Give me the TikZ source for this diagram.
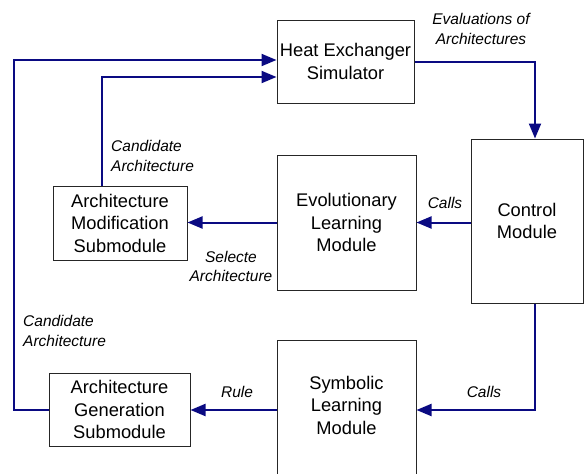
\documentclass[tikz,border=0pt]{standalone}
\usepackage{fontspec}
\setmainfont{Liberation Sans}
\usetikzlibrary{arrows.meta}
\definecolor{navyline}{RGB}{10,10,130}
\tikzset{
  box/.style={draw=black!85, line width=1pt, fill=white, inner sep=0pt, align=center,
              font=\fontsize{18.3}{22.5}\selectfont},
  lbl/.style={inner sep=0pt, font=\fontsize{15.5}{19.5}\selectfont\itshape},
  arr/.style={draw=navyline, line width=2pt, -{Triangle[length=15pt,width=12pt]}}
}
\begin{document}
\begin{tikzpicture}[x=1pt,y=-1pt]
\useasboundingbox (0,0) rectangle (584,474);
\clip (0,0) rectangle (584,474);
% boxes
\node[box, minimum width=137pt, minimum height=83pt] (hx) at (345.5,61.5) {Heat Exchanger\\Simulator};
\node[box, minimum width=112pt, minimum height=164pt] (ctrl) at (527,221) {Control\\Module};
\node[box, minimum width=139pt, minimum height=135pt] (evo) at (346.5,222.5) {Evolutionary\\Learning\\Module};
\node[box, minimum width=134pt, minimum height=74pt] (mod) at (120,223) {Architecture\\Modification\\Submodule};
\node[box, minimum width=139pt, minimum height=140pt] (sym) at (346.5,410) {};
\node[box, draw=none, fill=none] (symtxt) at (346.5,405) {Symbolic\\Learning\\Module};
\node[box, minimum width=141pt, minimum height=73pt] (gen) at (119.5,409.5) {Architecture\\Generation\\Submodule};
% connectors
\coordinate (lft) at (14,410);
\draw[arr] (hx.east) -| ([xshift=8pt]ctrl.north);
\draw[arr] (gen.west) -- (gen.west -| lft) |- ([yshift=1.5pt]hx.west);
\draw[arr] ([xshift=-18pt]mod.north) |- ([yshift=-15.5pt]hx.west);
\draw[arr] (ctrl.west |- evo.east) -- (evo.east);
\draw[arr] (evo.west) -- (evo.west -| mod.east);
\draw[arr] ([xshift=8pt]ctrl.south) |- (sym.east);
\draw[arr] (sym.west) -- (sym.west -| gen.east);
% labels
\node[lbl, align=center] (l1) at (481,29) {Evaluations of\\Architectures};
\node[lbl, align=left, anchor=west] (l2) at (111,156) {Candidate\\Architecture};
\node[lbl] (l3) at (445,203) {Calls};
\node[lbl, align=center] (l4) at (231,266.5) {Selecte\\Architecture};
\node[lbl, align=left, anchor=west] (l5) at (23,331) {Candidate\\Architecture};
\node[lbl] (l6) at (237,392) {Rule};
\node[lbl] (l7) at (484,392) {Calls};
\end{tikzpicture}
\end{document}
